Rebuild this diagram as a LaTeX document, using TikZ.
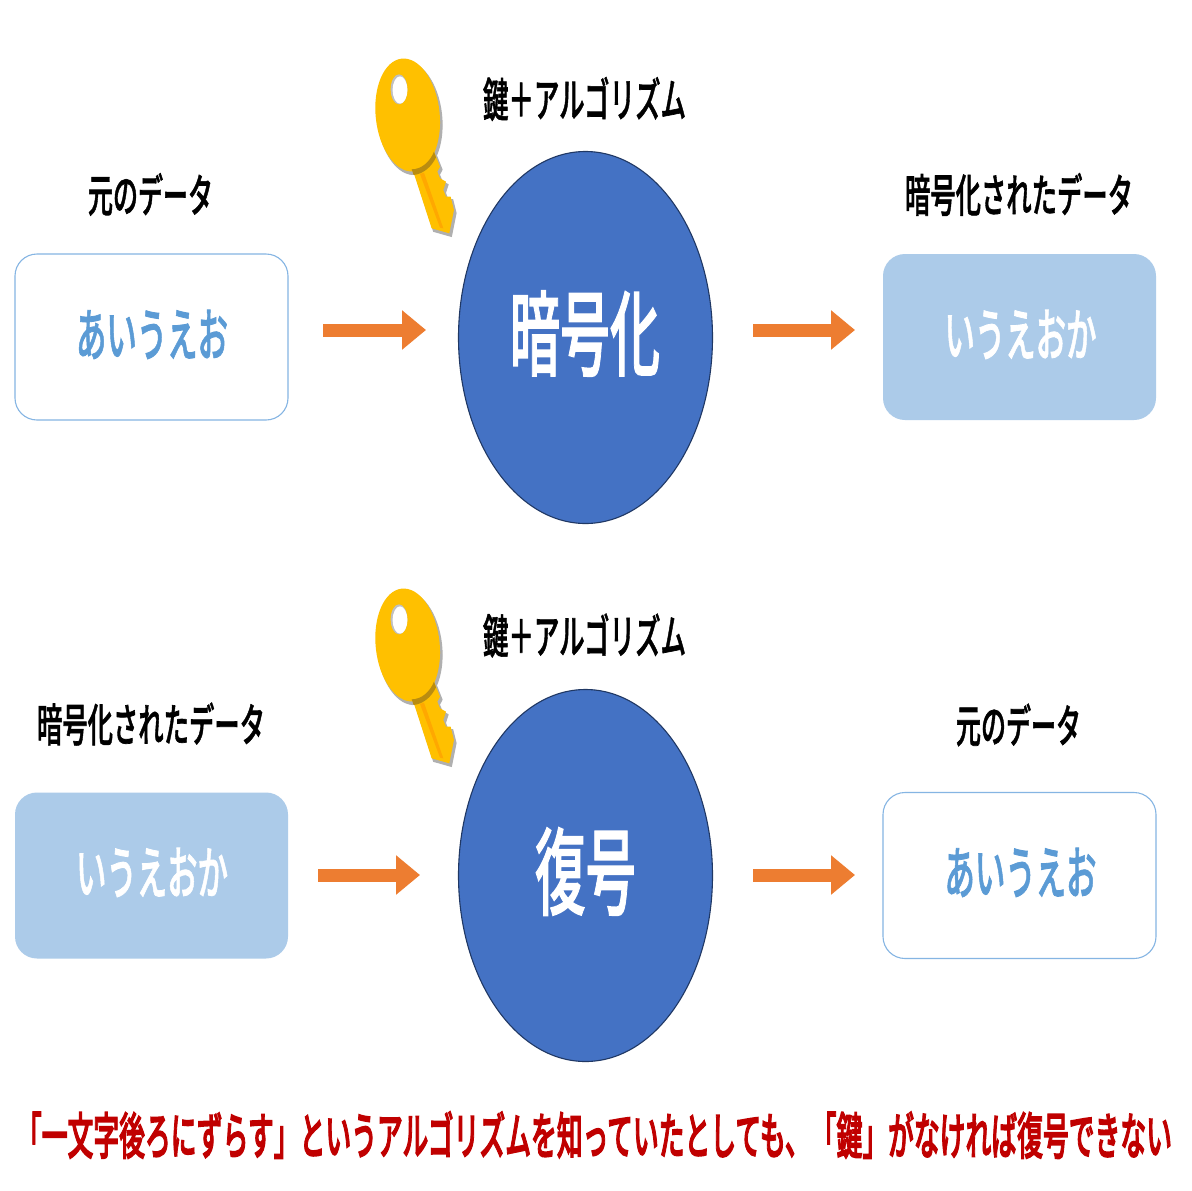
\documentclass[tikz,border=0pt]{standalone}
\usepackage{fontspec}
\usepackage{graphicx}
\usetikzlibrary{shapes.geometric,arrows.meta}
\setmainfont[FakeBold=1.5]{Noto Sans CJK JP Medium}
\newfontfamily\hvy[FakeBold=3]{Noto Sans CJK JP Medium}
\definecolor{blueF}{HTML}{4472C4}
\definecolor{blueL}{HTML}{203864}
\definecolor{paleB}{HTML}{ACCBE9}
\definecolor{midB}{HTML}{5B9BD5}
\definecolor{edgeB}{HTML}{85B5E3}
\definecolor{orangeA}{HTML}{ED7D31}
\definecolor{redT}{HTML}{C00000}
\definecolor{keyY}{HTML}{FFC000}
\definecolor{keyD}{HTML}{B98C10}
\definecolor{keyS}{HTML}{FFA800}
\definecolor{keyG}{HTML}{B0B0B0}
\newcommand{\fit}[3]{\resizebox{#1pt}{#2pt}{#3}}
\tikzset{
  x=1pt,y=-1pt,
  txt/.style={inner sep=0pt,outer sep=0pt,anchor=center},
  blackT/.style={txt,text=black},
  circ/.style={ellipse,draw=blueL,line width=1.1pt,fill=blueF,minimum width=254pt,minimum height=372pt,inner sep=0pt},
  hollow/.style={rectangle,rounded corners=22pt,draw=edgeB,line width=1.1pt,fill=white,minimum width=273pt,minimum height=166pt,inner sep=0pt},
  solidb/.style={rectangle,rounded corners=22pt,fill=paleB,minimum width=273pt,minimum height=166pt,inner sep=0pt},
  flow/.style={line width=13pt,draw=orangeA,-{Triangle[length=24pt,width=38pt,color=orangeA]}},
  keyshapes/.pic={
    \begin{scope}[x=0.3333pt,y=-0.3333pt]
      \begin{scope}[shift={(6,9)}]
        \fill[keyG,draw=keyG,line width=1.2pt] (222,305) -- (240,350) -- (232,365) -- (240,385) -- (258,395) -- (250,420) -- (258,440) -- (272,440) -- (282,480) -- (268,550) -- (215,535) -- (160,365) -- cycle;
        \fill[keyG,draw=keyG,line width=1.2pt,rotate around={6:(143,195)}] (143,195) ellipse [x radius=96,y radius=170];
      \end{scope}
      \fill[keyY] (222,305) -- (240,350) -- (232,365) -- (240,385) -- (258,395) -- (250,420) -- (258,440) -- (272,440) -- (282,480) -- (268,550) -- (215,535) -- (160,365) -- cycle;
      \fill[keyY,rotate around={6:(143,195)}] (143,195) ellipse [x radius=96,y radius=170];
      \fill[keyD] (155,358) .. controls (185,358) and (210,335) .. (222,305) -- (228,322) .. controls (215,350) and (190,372) .. (161,375) -- cycle;
      \fill[keyS] (180,372) -- (192,368) -- (250,535) -- (240,533) -- cycle;
      \fill[keyG!80!white] (117,118) ellipse [x radius=25,y radius=45];
      \fill[white] (120,120) ellipse [x radius=22,y radius=41];
    \end{scope}
  }
}
\begin{document}
\begin{tikzpicture}
\useasboundingbox (0,0) rectangle (1191,1191);
\fill[white] (0,0) rectangle (1191,1191);

% top row
\node[circ] (enc) at (585.5,337.5) {};
\node[txt,text=white] (encT) at (585,333.5) {\fit{150}{78}{暗号化}};
\node[hollow] (src1) at (151.5,337) {};
\node[txt,text=midB] (src1T) at (152,334.5) {\fit{152}{46}{あいうえお}};
\node[solidb] (dst1) at (1019.5,337) {};
\node[txt,text=white] (dst1T) at (1020.5,334.5) {\fit{152}{46}{いうえおか}};
\node[blackT] (lab1) at (150.5,194.5) {\fit{125}{39}{元のデータ}};
\node[blackT] (lab2) at (1019,194.5) {\fit{228}{39}{暗号化されたデータ}};
\node[blackT] (lab3) at (584.5,99) {\fit{203}{40}{鍵＋アルゴリズム}};
\pic (key1) at (360,50) {keyshapes};
\coordinate (a1s) at (323,330);
\coordinate (a1e) at (426,330);
\coordinate (a2s) at (753,330);
\coordinate (a2e) at (855,330);
\draw[flow] (a1s) -- (a1e);
\draw[flow] (a2s) -- (a2e);

% bottom row
\node[circ] (dec) at (585.5,875.5) {};
\node[txt,text=white] (decT) at (585.5,871.5) {\fit{101}{80}{復号}};
\node[solidb] (src2) at (151.5,875.5) {};
\node[txt,text=white] (src2T) at (152,872.5) {\fit{152}{46}{いうえおか}};
\node[hollow] (dst2) at (1019.5,875.5) {};
\node[txt,text=midB] (dst2T) at (1020.5,872.5) {\fit{152}{46}{あいうえお}};
\node[blackT] (lab4) at (151,724) {\fit{228}{39}{暗号化されたデータ}};
\node[blackT] (lab5) at (1018.5,725) {\fit{125}{39}{元のデータ}};
\node[blackT] (lab6) at (584.5,635.5) {\fit{203}{40}{鍵＋アルゴリズム}};
\pic (key2) at (360,580) {keyshapes};
\coordinate (b1s) at (318,875);
\coordinate (b1e) at (420,875);
\coordinate (b2s) at (753,875);
\coordinate (b2e) at (855,875);
\draw[flow] (b1s) -- (b1e);
\draw[flow] (b2s) -- (b2e);

% caption
\node[txt,text=redT] (cap) at (594,1135) {\fit{1156}{43}{\hvy 「一文字後ろにずらす」というアルゴリズムを知っていたとしても、「鍵」がなければ復号できない}};
\end{tikzpicture}
\end{document}
